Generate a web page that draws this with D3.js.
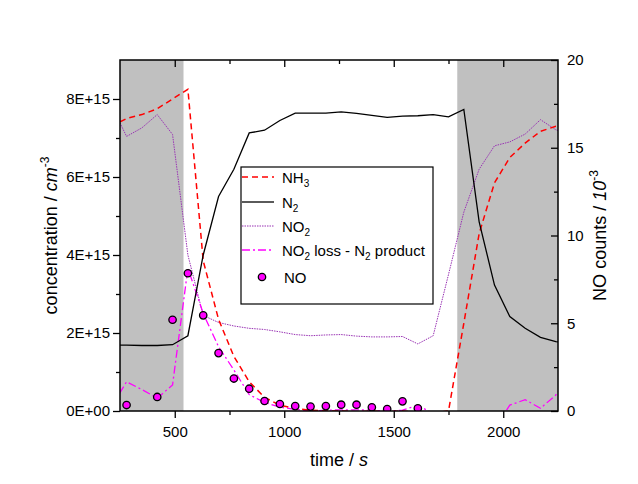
<!DOCTYPE html>
<html>
<head>
<meta charset="utf-8">
<script src="https://cdn.jsdelivr.net/npm/d3@7"></script>
<style>
  body { margin: 0; background: #fff; }
  svg { display: block; font-family: "Liberation Sans", Arial, sans-serif; }
</style>
</head>
<body>
<svg id="chart" width="638" height="484"></svg>
<script>
// time in s, concentrations in units of 1E+15 cm^-3
const times = [210, 280, 350, 420, 490, 560, 630, 700, 770, 840, 910, 980, 1050, 1120, 1190, 1260,
  1330, 1400, 1470, 1540, 1610, 1680, 1750, 1820, 1890, 1960, 2030, 2100, 2170, 2240, 2310];
const nh3 = [7.3, 7.5, 7.6, 7.75, 8.0, 8.25, 3.85, 2.35, 1.4, 0.75, 0.35, 0.15, 0.06, 0.02, 0.0, 0.0,
  -0.02, 0.0, -0.02, 0.0, -0.03, -0.05, 0.0, 2.25, 4.55, 5.85, 6.5, 6.87, 7.17, 7.3, 7.35];
const n2 = [1.69, 1.69, 1.68, 1.68, 1.7, 1.93, 4.0, 5.5, 6.2, 7.13, 7.2, 7.45, 7.64, 7.64, 7.64, 7.67,
  7.63, 7.58, 7.53, 7.56, 7.57, 7.6, 7.54, 7.73, 4.85, 3.23, 2.42, 2.12, 1.89, 1.78, 1.72];
const no2 = [7.85, 7.04, 7.26, 7.6, 7.09, 4.0, 2.45, 2.27, 2.18, 2.12, 2.09, 2.03, 1.96, 1.93, 1.95, 1.96,
  1.92, 1.9, 1.9, 1.91, 1.72, 1.93, 3.5, 5.1, 6.2, 6.8, 6.9, 7.1, 7.47, 7.21, 7.1];
const no2LossN2 = [0.1, 0.75, 0.55, 0.33, 0.67, 3.66, 2.5, 1.65, 1.05, 0.42, 0.22, 0.1, 0.04, 0.0, 0.02, 0.03,
  0.03, 0.02, 0.0, 0.02, 0.15, -0.07, -1.5, -2.2, -1.6, -0.45, 0.15, 0.29, 0.07, 0.41, 1.0];

// NO counts / 10^-3 (right axis)
const noTimes = [280, 420, 490, 560, 630, 700, 770, 840, 910, 980, 1050, 1120, 1190, 1260, 1330, 1400, 1470, 1540, 1610];
const noCounts = [0.34, 0.8, 5.2, 7.85, 5.45, 3.3, 1.85, 1.27, 0.57, 0.4, 0.28, 0.25, 0.28, 0.36, 0.36, 0.21, 0.11, 0.55, 0.15];

// grey shaded periods (s)
const shadeStart = [250, 1790];
const shadeEnd = [540, 2250];

const xTicks = [500, 1000, 1500, 2000];
const xMinor = [750, 1250, 1750];
const yLeftTicks = [0, 2e15, 4e15, 6e15, 8e15];
const yLeftMinor = [1e15, 3e15, 5e15, 7e15];
const yRightTicks = [0, 5, 10, 15, 20];
const yRightMinor = [2.5, 7.5, 12.5, 17.5];

const E15 = 1e15;
const m = { left: 120, right: 558, top: 60, bottom: 411 };

const svg = d3.select("#chart");
svg.append("rect").attr("width", 638).attr("height", 484).attr("fill", "#fff");

const x = d3.scaleLinear().domain([250, 2250]).range([m.left, m.right]);
const yL = d3.scaleLinear().domain([0, 9e15]).range([m.bottom, m.top]);
const yR = d3.scaleLinear().domain([0, 20]).range([m.bottom, m.top]);

svg.append("defs").append("clipPath").attr("id", "plot")
  .append("rect").attr("x", m.left).attr("y", m.top)
  .attr("width", m.right - m.left).attr("height", m.bottom - m.top);

// shaded regions
svg.append("g").selectAll("rect")
  .data(shadeStart)
  .enter()
  .append("rect")
  .attr("x", (d) => x(d))
  .attr("y", m.top)
  .attr("width", (d, i) => x(shadeEnd[i]) - x(d))
  .attr("height", m.bottom - m.top)
  .attr("fill", "#c0c0c0");

const styles = {
  nh3: { color: "#ff0000", width: 1.5, dash: "6,4" },
  n2: { color: "#000000", width: 1.3, dash: null },
  no2: { color: "#9932b4", width: 1, dash: "1.5,1" },
  loss: { color: "#ff00ff", width: 1.3, dash: "8,3,2,3" },
};

const line = d3.line()
  .x((d, i) => x(times[i]))
  .y((d) => yL(d * E15));

const plot = svg.append("g").attr("clip-path", "url(#plot)");
[["no2", no2], ["loss", no2LossN2], ["nh3", nh3], ["n2", n2]].forEach(([key, values]) => {
  const s = styles[key];
  plot.append("path")
    .datum(values)
    .attr("d", line)
    .attr("fill", "none")
    .attr("stroke", s.color)
    .attr("stroke-width", s.width)
    .attr("stroke-dasharray", s.dash);
});

plot.append("g").selectAll("circle")
  .data(noCounts)
  .enter()
  .append("circle")
  .attr("cx", (d, i) => x(noTimes[i]))
  .attr("cy", (d) => yR(d))
  .attr("r", 3.7)
  .attr("fill", "#ff00ff")
  .attr("stroke", "#000")
  .attr("stroke-width", 1.3);

// axes
function styleAxis(g) {
  g.select(".domain").remove();
  g.selectAll(".tick line").attr("stroke", "#000").attr("stroke-width", 1.3);
  g.selectAll(".tick text").attr("fill", "#000").attr("font-size", 15)
    .attr("font-family", "Liberation Sans, Arial, sans-serif");
}

const sciFormat = (v) => {
  const [mant, e] = v.toExponential(0).split("e");
  return mant + "E" + e[0] + e.slice(1).padStart(2, "0");
};

svg.append("g").attr("transform", `translate(0,${m.bottom})`)
  .call(d3.axisBottom(x).tickValues(xTicks).tickSize(7).tickPadding(8).tickFormat(d3.format("d")))
  .call(styleAxis);
svg.append("g").attr("transform", `translate(0,${m.bottom})`)
  .call(d3.axisBottom(x).tickValues(xMinor).tickSize(4).tickFormat(""))
  .call(styleAxis);
svg.append("g").attr("transform", `translate(0,${m.top})`)
  .call(d3.axisTop(x).tickValues(xTicks).tickSize(-7).tickFormat(""))
  .call(styleAxis);
svg.append("g").attr("transform", `translate(0,${m.top})`)
  .call(d3.axisTop(x).tickValues(xMinor).tickSize(-4).tickFormat(""))
  .call(styleAxis);

svg.append("g").attr("transform", `translate(${m.left},0)`)
  .call(d3.axisLeft(yL).tickValues(yLeftTicks).tickSize(7).tickPadding(3).tickFormat(sciFormat))
  .call(styleAxis);
svg.append("g").attr("transform", `translate(${m.left},0)`)
  .call(d3.axisLeft(yL).tickValues(yLeftMinor).tickSize(4).tickFormat(""))
  .call(styleAxis);

svg.append("g").attr("transform", `translate(${m.right},0)`)
  .call(d3.axisRight(yR).tickValues(yRightTicks).tickSize(-7).tickPadding(9).tickFormat(d3.format("d")))
  .call(styleAxis);
svg.append("g").attr("transform", `translate(${m.right},0)`)
  .call(d3.axisRight(yR).tickValues(yRightMinor).tickSize(-4).tickFormat(""))
  .call(styleAxis);

svg.append("rect")
  .attr("x", m.left).attr("y", m.top)
  .attr("width", m.right - m.left).attr("height", m.bottom - m.top)
  .attr("fill", "none").attr("stroke", "#000").attr("stroke-width", 1.5);

// axis titles
const xTitle = svg.append("text").attr("x", (m.left + m.right) / 2).attr("y", 466)
  .attr("text-anchor", "middle").attr("font-size", 18);
xTitle.append("tspan").text("time / ");
xTitle.append("tspan").attr("font-style", "italic").text("s");

const yLTitle = svg.append("text")
  .attr("transform", `translate(57,${(m.top + m.bottom) / 2}) rotate(-90)`)
  .attr("text-anchor", "middle").attr("font-size", 18);
yLTitle.append("tspan").text("concentration / ");
yLTitle.append("tspan").attr("font-style", "italic").text("cm");
yLTitle.append("tspan").attr("font-size", 12).attr("dy", -8).text("-3");

const yRTitle = svg.append("text")
  .attr("transform", `translate(606,${(m.top + m.bottom) / 2}) rotate(-90)`)
  .attr("text-anchor", "middle").attr("font-size", 18);
yRTitle.append("tspan").text("NO counts / ");
yRTitle.append("tspan").attr("font-style", "italic").text("10");
yRTitle.append("tspan").attr("font-size", 12).attr("dy", -8).text("-3");

// legend
const legendItems = [
  { key: "nh3", parts: [["NH", 0], ["3", 1]] },
  { key: "n2", parts: [["N", 0], ["2", 1]] },
  { key: "no2", parts: [["NO", 0], ["2", 1]] },
  { key: "loss", parts: [["NO", 0], ["2", 1], [" loss - N", 0], ["2", 1], [" product", 0]] },
  { key: "no", parts: [["NO", 0]] },
];
const rowY = [177, 202, 226, 250, 277];

const legend = svg.append("g");
legend.append("rect")
  .attr("x", 241).attr("y", 167).attr("width", 192).attr("height", 137)
  .attr("fill", "#fff").attr("stroke", "#000").attr("stroke-width", 1.2);

legendItems.forEach((item, i) => {
  const y = rowY[i];
  if (item.key === "no") {
    legend.append("circle").attr("cx", 262).attr("cy", y).attr("r", 3.7)
      .attr("fill", "#ff00ff").attr("stroke", "#000").attr("stroke-width", 1.3);
  } else {
    const s = styles[item.key];
    legend.append("line").attr("x1", 242).attr("x2", 274).attr("y1", y).attr("y2", y)
      .attr("stroke", s.color).attr("stroke-width", s.width).attr("stroke-dasharray", s.dash);
  }
  const t = legend.append("text").attr("x", item.key === "no" ? 284 : 282).attr("y", y + 5.5)
    .attr("font-size", 15);
  let shifted = false;
  item.parts.forEach(([str, sub]) => {
    const ts = t.append("tspan").text(str);
    if (sub) {
      ts.attr("font-size", 10).attr("dy", 4);
      shifted = true;
    } else if (shifted) {
      ts.attr("dy", -4);
      shifted = false;
    }
  });
});
</script>
</body>
</html>
